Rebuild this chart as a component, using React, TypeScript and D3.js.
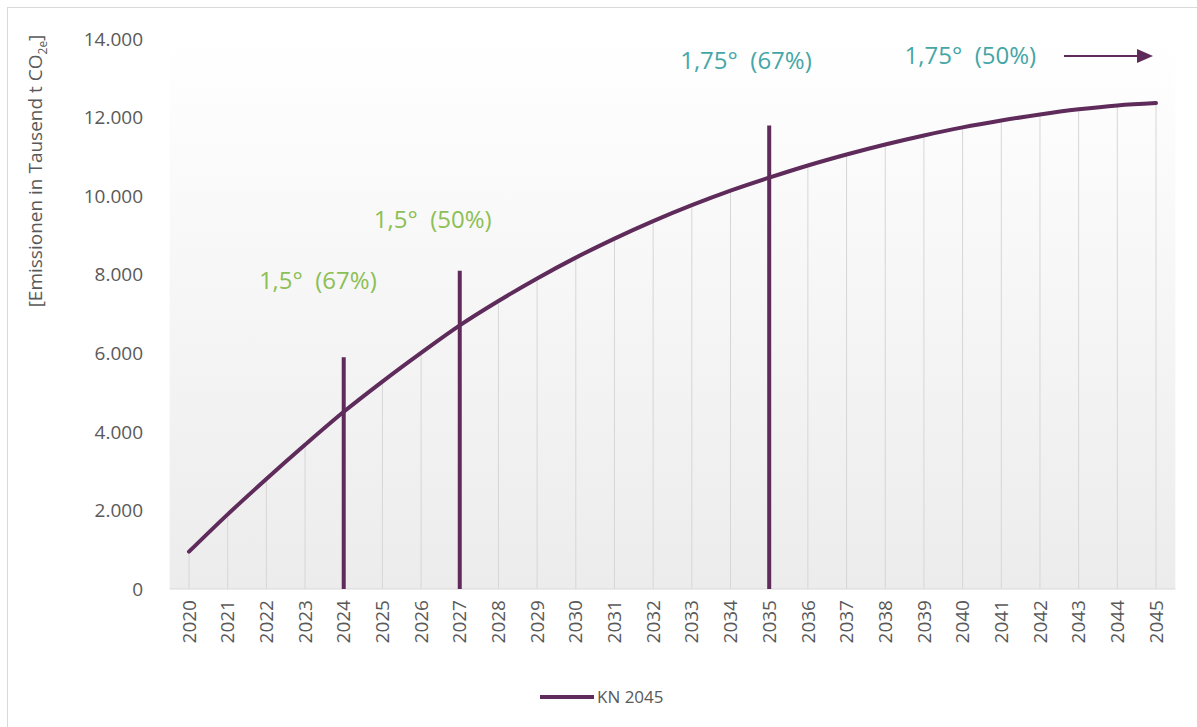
import React from "react";
import * as d3 from "d3";

const years = [2020,2021,2022,2023,2024,2025,2026,2027,2028,2029,2030,2031,2032,2033,2034,2035,2036,2037,2038,2039,2040,2041,2042,2043,2044,2045];
const kn2045 = [950,1900,2800,3670,4510,5280,6010,6710,7330,7905,8435,8920,9365,9770,10140,10470,10780,11060,11315,11545,11750,11925,12080,12210,12310,12370];
const yTicks = [0,2000,4000,6000,8000,10000,12000,14000];
const markers = [
  { year: 2024, top: 5900 },
  { year: 2027, top: 8100 },
  { year: 2035, top: 11800 },
];
const annotations = [
  { text: "1,5°  (67%)", year: 2023.33, value: 7850, color: "#8cbf55" },
  { text: "1,5°  (50%)", year: 2026.3, value: 9400, color: "#8cbf55" },
  { text: "1,75°  (67%)", year: 2034.4, value: 13450, color: "#45a6a6" },
  { text: "1,75°  (50%)", year: 2040.2, value: 13570, color: "#45a6a6" },
];
const seriesName = "KN 2045";

const W = 1197, H = 727;
const PURPLE = "#5e2b5b";
const FONT = "'Open Sans', sans-serif";

export default function App() {
  const x = d3.scalePoint<number>().domain(years).range([189, 1156]);
  const y = d3.scaleLinear().domain([0, 14000]).range([589, 39]);
  const step = x.step();
  const left = (x(years[0]) as number) - step / 2;
  const right = (x(years[years.length - 1]) as number) + step / 2;
  const line = d3.line<number>()
    .x((_, i) => x(years[i]) as number)
    .y((d) => y(d))
    .curve(d3.curveMonotoneX);
  const fmt = (v: number) => d3.format(",")(v).replace(/,/g, ".");
  const yearPos = (yr: number) => {
    const a = Math.floor(yr);
    return (x(a) as number) + (yr - a) * step;
  };

  return (
    <svg width={W} height={H} style={{ position: "absolute", left: 0, top: 0, background: "#fff" }} fontFamily={FONT}>
      <defs>
        <linearGradient id="bg" x1="0" y1="0" x2="0" y2="1">
          <stop offset="0%" stopColor="#ffffff" />
          <stop offset="100%" stopColor="#ececec" />
        </linearGradient>
      </defs>
      <rect x={7.5} y={7.5} width={W + 10} height={H + 10} fill="#fff" stroke="#d9d9d9" strokeWidth={1} />
      <rect x={left} y={y(14000)} width={right - left} height={y(0) - y(14000)} fill="url(#bg)" />
      {years.map((yr, i) => (
        <line key={yr} x1={x(yr)} x2={x(yr)} y1={y(kn2045[i])} y2={y(0)} stroke="#d6d6d6" strokeWidth={1} />
      ))}
      <line x1={left} x2={right} y1={y(0)} y2={y(0)} stroke="#d9d9d9" strokeWidth={1} />
      {yTicks.map((t) => (
        <text key={t} x={143} y={y(t)} dy="0.35em" textAnchor="end" fontSize={19} fill="#595959">{fmt(t)}</text>
      ))}
      {years.map((yr) => (
        <text key={yr} transform={`translate(${x(yr)},${600}) rotate(-90)`} textAnchor="end" dy="0.35em" fontSize={19} fill="#595959">{yr}</text>
      ))}
      <text transform={`translate(42,${171}) rotate(-90)`} textAnchor="middle" fontSize={19} fill="#595959">
        [Emissionen in Tausend t CO<tspan fontSize={12} dy="5">2e</tspan><tspan dy="-5">]</tspan>
      </text>
      <path d={line(kn2045) || ""} fill="none" stroke={PURPLE} strokeWidth={4} strokeLinecap="round" />
      {markers.map((m) => (
        <line key={m.year} x1={x(m.year)} x2={x(m.year)} y1={y(m.top)} y2={y(0)} stroke={PURPLE} strokeWidth={4} />
      ))}
      {annotations.map((a) => (
        <text key={a.text} x={yearPos(a.year)} y={y(a.value)} textAnchor="middle" dy="0.35em" fontSize={24} fill={a.color} style={{ whiteSpace: "pre" }}>{a.text}</text>
      ))}
      <line x1={1064} x2={1140} y1={56} y2={56} stroke={PURPLE} strokeWidth={2} />
      <path d="M1137,49 L1153,56 L1137,63 Z" fill={PURPLE} />
      <line x1={540} x2={594} y1={697} y2={697} stroke={PURPLE} strokeWidth={4} />
      <text x={597} y={697} dy="0.35em" fontSize={17} fill="#595959">{seriesName}</text>
    </svg>
  );
}
